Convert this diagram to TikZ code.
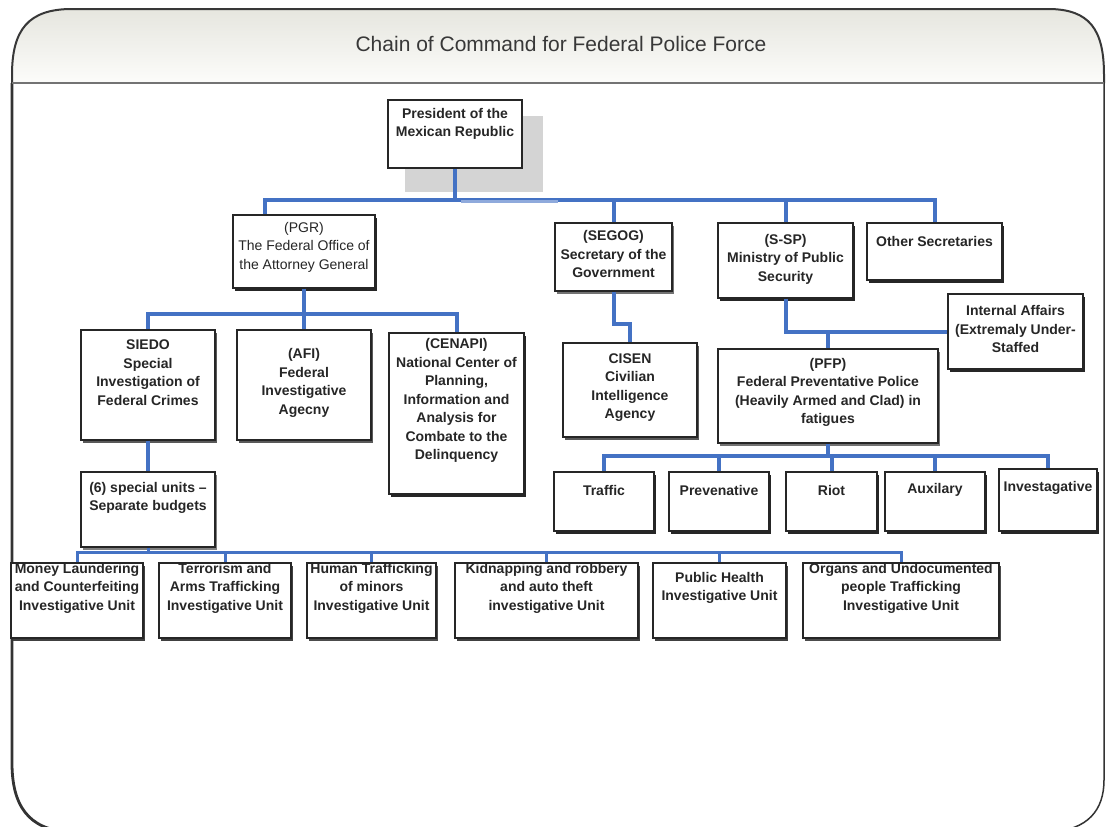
\documentclass[tikz,border=0pt]{standalone}
\usepackage{fontspec}
\setmainfont{Liberation Sans}
\usetikzlibrary{shadows}
\definecolor{cblue}{HTML}{4472C4}
\definecolor{clight}{HTML}{8FAADC}
\definecolor{hdrtop}{RGB}{230,230,223}
\definecolor{hdrbot}{RGB}{252,252,250}
\tikzset{
  box/.style={draw=black!85, line width=1.2pt, fill=white, inner sep=0pt, rectangle,
    drop shadow={shadow xshift=1.5pt, shadow yshift=-3pt, fill=#1, opacity=1}},
  box/.default=black!85,
  txt/.style={font=\fontsize{14}{18.5}\selectfont\bfseries, align=center, inner sep=0pt, text=black!85},
  rtxt/.style={font=\fontsize{14}{18.5}\selectfont, align=center, inner sep=0pt, text=black!85},
  conn/.style={draw=cblue, line width=4pt},
  connthin/.style={draw=cblue, line width=3pt},
  connlight/.style={draw=clight, line width=3pt},
  frameline/.style={draw=black!78, line width=2pt},
}
\newcommand{\bx}[6][black!85]{\node[box=#1, minimum width={#5-#3}, minimum height={#6-#4}] (#2) at ({(#3+#5)/2},{(#4+#6)/2}) {};}
\begin{document}
\begin{tikzpicture}[x=1pt,y=-1pt]
\useasboundingbox (0,0) rectangle (1106,827);
\fill[white] (0,0) rectangle (1106,827);
% header
\path[top color=hdrtop, bottom color=hdrbot] (12,83) -- (12,75) .. controls (12,30) and (28,9) .. (72,9) -- (1048,9) .. controls (1090,9) and (1104,30) .. (1104,75) -- (1104,83) -- cycle;
\draw[frameline] (12,83) -- (12,75) .. controls (12,30) and (28,9) .. (72,9) -- (1048,9) .. controls (1090,9) and (1104,30) .. (1104,75) -- (1104,83);
\node[font=\fontsize{21}{24}\selectfont, text=black!78, inner sep=0pt] (title) at (561,44) {Chain of Command for Federal Police Force};
% body frame
\draw[draw=black!80, line width=2.8pt] (12,83) -- (12,763) .. controls (12,805) and (28,830) .. (70,832);
\draw[draw=black!80, line width=1.5pt] (1104,83) -- (1104,780) .. controls (1104,810) and (1088,830) .. (1050,832);
\draw[draw=black!55, line width=2.2pt] (12,83) -- (1104,83);

% president
\node[fill=black!17, inner sep=0pt, minimum width=138, minimum height=76] (presshadow) at (474,154) {};
\node[draw=black!85, line width=2.6pt, fill=white, inner sep=0pt, minimum width=134, minimum height=68] (pres) at (455,134) {};
\node[txt] (pres-t) at (455,124) {President of the\\Mexican Republic};

% level 2
\bx{pgr}{233}{215}{375}{288}
\bx[black!55]{segog}{555}{223}{672}{291}
\bx{ssp}{718}{223}{853}{298}
\bx{other}{867}{223}{1002}{280}
\node[box, line width=2.6pt, minimum width=135, minimum height=75] (intaff) at (1015.5,331.5) {};
\bx[black!55]{pfp}{718}{349}{938}{443}
\bx[black!65]{cisen}{563}{343}{697}{437}

% level 3
\bx[black!65]{siedo}{81}{330}{215}{440}
\bx[black!65]{afi}{237}{330}{371}{440}
\bx{cenapi}{389}{333}{524}{494}
\bx[black!50]{units}{81}{472}{215}{547}

% PFP units
\bx{traffic}{554}{472}{654}{531}
\bx{prev}{669}{472}{769}{531}
\bx{riot}{786}{472}{877}{531}
\bx{aux}{885}{472}{985}{531}
\bx{inv}{999}{469}{1097}{531}

% investigative units
\bx[black!75]{money}{11}{563}{143}{638}
\bx[black!75]{terror}{159}{563}{291}{638}
\bx[black!70]{human}{307}{563}{436}{638}
\bx[black!75]{kidnap}{455}{563}{638}{638}
\bx[black!75]{health}{653}{563}{786}{638}
\bx[black!70]{organs}{803}{563}{999}{638}

% connectors
\draw[conn] (pres.south) -- ++(0,31) coordinate (b1);
\draw[conn] ([xshift=-39pt]pgr.north) |- (b1) -| (other.north);
\draw[connlight] ([xshift=6pt,yshift=-1pt]b1) -- ([xshift=-56pt,yshift=-1pt]b1 -| segog.north);
\draw[conn] (segog.north) -- (segog.north |- b1);
\draw[conn] (ssp.north) -- (ssp.north |- b1);

\draw[conn] (pgr.south) -- (afi.north);
\draw[conn] (siedo.north) -- ++(0,-15) -| (cenapi.north);
\draw[conn] (siedo.south) -- (units.north);

\draw[connthin] (money.north) -- ++(0,-10) coordinate (b3) -| (organs.north);
\draw[connthin] (units.south) -- (units.south |- b3);
\draw[connthin] (terror.north) -- (terror.north |- b3);
\draw[connthin] (human.north) -- (human.north |- b3);
\draw[connthin] (kidnap.north) -- (kidnap.north |- b3);
\draw[connthin] (health.north) -- (health.north |- b3);

\draw[conn] (segog.south) -- ++(0,32) -| (cisen.north);
\draw[conn] (ssp.south) |- (intaff.west);
\draw[conn] (pfp.north) -- (pfp.north |- intaff.west);

\draw[conn] (traffic.north) -- ++(0,-15) coordinate (b4) -| (inv.north);
\draw[conn] (pfp.south) -- (pfp.south |- b4);
\draw[conn] (prev.north) -- (prev.north |- b4);
\draw[conn] (riot.north) -- (riot.north |- b4);
\draw[conn] (aux.north) -- (aux.north |- b4);

% texts
\node[rtxt] (pgr-t) at (304,247) {(PGR)\\The Federal Office of\\the Attorney General};
\node[txt] (segog-t) at (613.5,254) {(SEGOG)\\Secretary of the\\Government};
\node[txt] (ssp-t) at (785.5,259) {(S-SP)\\Ministry of Public\\Security};
\node[txt] (other-t) at (934.5,241) {Other Secretaries};
\node[txt] (intaff-t) at (1015.5,329) {Internal Affairs\\(Extremaly Under-\\Staffed};
\node[txt] (pfp-t) at (828,392.5) {(PFP)\\Federal Preventative Police\\(Heavily Armed and Clad) in\\fatigues};
\node[txt] (cisen-t) at (630,387.5) {CISEN\\Civilian\\Intelligence\\Agency};
\node[txt] (siedo-t) at (148,372.5) {SIEDO\\Special\\Investigation of\\Federal Crimes};
\node[txt] (afi-t) at (304,383) {(AFI)\\Federal\\Investigative\\Agecny};
\node[txt] (cenapi-t) at (456.5,400.5) {(CENAPI)\\National Center of\\Planning,\\Information and\\Analysis for\\Combate to the\\Delinquency};
\node[txt] (units-t) at (148,498) {(6) special units --\\Separate budgets};
\node[txt] (traffic-t) at (604,490) {Traffic};
\node[txt] (prev-t) at (719,490) {Prevenative};
\node[txt] (riot-t) at (831.5,490) {Riot};
\node[txt] (aux-t) at (935,490) {Auxilary};
\node[txt] (inv-t) at (1048,488) {Investagative};
\node[txt] (money-t) at (77,588) {Money Laundering\\and Counterfeiting\\Investigative Unit};
\node[txt] (terror-t) at (225,588) {Terrorism and\\Arms Trafficking\\Investigative Unit};
\node[txt] (human-t) at (371.5,588) {Human Trafficking\\of minors\\Investigative Unit};
\node[txt] (kidnap-t) at (546.5,588) {Kidnapping and robbery\\and auto theft\\investigative Unit};
\node[txt] (health-t) at (719.5,588) {Public Health\\Investigative Unit};
\node[txt] (organs-t) at (901,588) {Organs and Undocumented\\people Trafficking\\Investigative Unit};
\end{tikzpicture}
\end{document}
